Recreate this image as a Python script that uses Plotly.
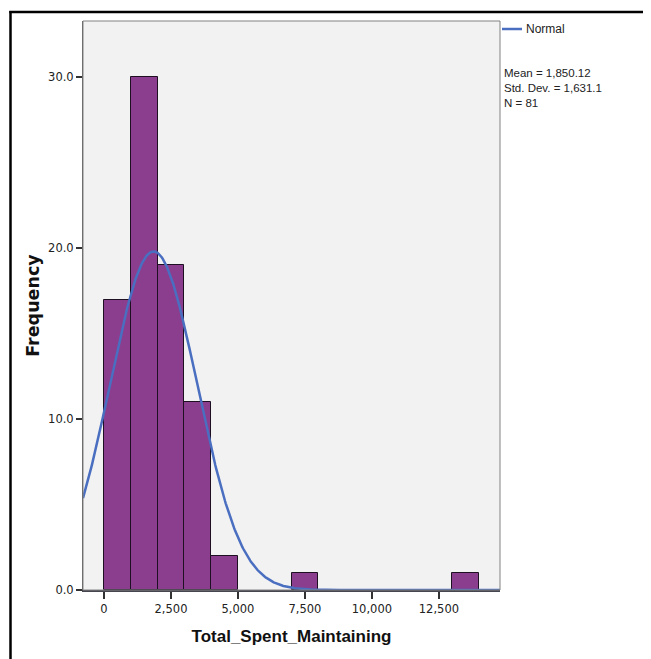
import numpy as np
import plotly.graph_objects as go

# ---- data ----
bin_starts = [0, 1000, 2000, 3000, 4000, 7000, 13000]
counts = [17, 30, 19, 11, 2, 1, 1]
bin_width = 1000
mean_val = 1850.12
std_val = 1631.1
n_val = 81
x_ticks = [0, 2500, 5000, 7500, 10000, 12500]
y_ticks = [0, 10, 20, 30]
stats_lines = ["Mean = 1,850.12", "Std. Dev. = 1,631.1", "N = 81"]

# page is rendered with an 8px body margin
OFF = 8
W, H = 651 - OFF, 659 - OFF
L, T = 83 - OFF, 21 - OFF
R = W - (500 - OFF)
B = H - (590 - OFF)
pw, ph = W - L - R, H - T - B

x_range = [-784, 14780]
y_range = [0, 33.3]

centers = [s + bin_width / 2 for s in bin_starts]

xc = np.linspace(x_range[0], x_range[1], 600)
yc = n_val * bin_width / (std_val * np.sqrt(2 * np.pi)) * np.exp(-0.5 * ((xc - mean_val) / std_val) ** 2)

fig = go.Figure()
fig.add_trace(go.Bar(
    x=centers, y=counts, width=bin_width,
    marker=dict(color="rgb(139,62,142)", line=dict(color="rgb(30,15,35)", width=1)),
    showlegend=False, hoverinfo="x+y",
))
fig.add_trace(go.Scatter(
    x=xc, y=yc, mode="lines", name="Normal",
    line=dict(color="rgb(74,110,192)", width=2.5),
    showlegend=False,
))

def px_x(p):  # page pixel -> paper coord
    return (p - OFF - L) / pw

def px_y(p):
    return 1 - (p - OFF - T) / ph

shapes = [
    dict(type="rect", xref="paper", yref="paper", x0=0, x1=1, y0=0, y1=1,
         line=dict(color="rgb(130,130,130)", width=1), layer="above"),
    dict(type="line", xref="paper", yref="paper", x0=px_x(10.5), x1=px_x(10.5), y0=px_y(11), y1=px_y(680),
         line=dict(color="black", width=2.5)),
    dict(type="line", xref="paper", yref="paper", x0=px_x(9.3), x1=px_x(680), y0=px_y(12), y1=px_y(12),
         line=dict(color="black", width=2.5)),
    dict(type="line", xref="paper", yref="paper", x0=px_x(502), x1=px_x(522), y0=px_y(29), y1=px_y(29),
         line=dict(color="rgb(74,110,192)", width=2.5)),
]

annotations = [
    dict(xref="paper", yref="paper", x=px_x(524), y=px_y(29), xanchor="left", yanchor="middle",
         text="Normal", showarrow=False,
         font=dict(family="Liberation Sans", size=12, color="#222")),
    dict(xref="paper", yref="paper", x=px_x(502), y=px_y(65), xanchor="left", yanchor="top",
         text="<br>".join(stats_lines), showarrow=False, align="left",
         font=dict(family="Liberation Sans", size=11.5, color="#222")),
]

fig.update_layout(
    width=W, height=H,
    margin=dict(l=L, r=R, t=T, b=B, pad=0),
    paper_bgcolor="white",
    plot_bgcolor="rgb(242,242,242)",
    bargap=0,
    shapes=shapes,
    annotations=annotations,
    font=dict(family="DejaVu Sans", color="#222"),
    xaxis=dict(
        range=x_range, tickvals=x_ticks, tickformat=",",
        showgrid=False, zeroline=False,
        showline=True, linecolor="rgb(70,70,80)", linewidth=1.5,
        ticks="outside", ticklen=7, tickcolor="rgb(50,50,50)", tickwidth=1.5,
        tickfont=dict(size=11.5, family="DejaVu Sans", color="#222"),
        title=dict(text="<b>Total_Spent_Maintaining</b>", standoff=16,
                   font=dict(size=17, family="Liberation Sans", color="#111")),
    ),
    yaxis=dict(
        range=y_range, tickvals=y_ticks, tickformat=".1f",
        showgrid=False, zeroline=False,
        showline=True, linecolor="rgb(90,90,90)", linewidth=1,
        ticks="outside", ticklen=6, tickcolor="rgb(50,50,50)", tickwidth=1.5,
        tickfont=dict(size=11.5, family="DejaVu Sans", color="#222"),
        title=dict(text="<b>Frequency</b>", standoff=3,
                   font=dict(size=17.5, family="DejaVu Sans", color="#111")),
    ),
)

fig.write_html("out.html")
